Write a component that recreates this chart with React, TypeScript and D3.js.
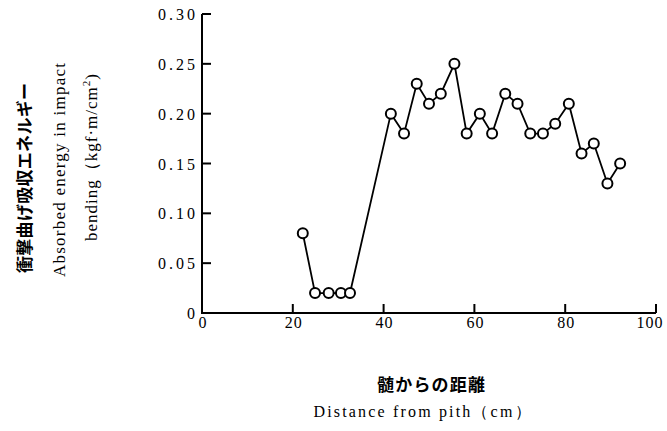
import React, { useEffect, useRef } from 'react';
import * as d3 from 'd3';

// distance from pith (cm) and absorbed energy (kgf·m/cm²)
const distance = [22.2, 24.9, 27.9, 30.6, 32.6, 41.6, 44.5, 47.3, 50.0, 52.6, 55.6, 58.3, 61.2, 63.9, 66.8, 69.5, 72.3, 75.1, 77.8, 80.8, 83.6, 86.3, 89.3, 92.1];
const energy = [0.08, 0.02, 0.02, 0.02, 0.02, 0.20, 0.18, 0.23, 0.21, 0.22, 0.25, 0.18, 0.20, 0.18, 0.22, 0.21, 0.18, 0.18, 0.19, 0.21, 0.16, 0.17, 0.13, 0.15];
const xTicks = [0, 20, 40, 60, 80, 100];
const yTicks = [0, 0.05, 0.1, 0.15, 0.2, 0.25, 0.3];
const yTickLabels = ['0', '0.05', '0.10', '0.15', '0.20', '0.25', '0.30'];

const serif = '"Liberation Serif", "DejaVu Serif", serif';
const cjk = '"Noto Sans CJK JP", sans-serif';

const App = () => {
  const svgRef = useRef<SVGSVGElement>(null);

  useEffect(() => {
    const svg = d3.select(svgRef.current);
    svg.selectAll('*').remove();

    const x = d3.scaleLinear().domain([0, 100]).range([202, 656]);
    const y = d3.scaleLinear().domain([0, 0.3]).range([313, 14]);

    // axes
    svg.append('line')
      .attr('x1', x(0)).attr('x2', x(0)).attr('y1', y(0.3)).attr('y2', y(0) + 1)
      .attr('stroke', '#000').attr('stroke-width', 2);
    svg.append('line')
      .attr('x1', x(0) - 1).attr('x2', x(100)).attr('y1', y(0)).attr('y2', y(0))
      .attr('stroke', '#000').attr('stroke-width', 2);

    // y ticks (pointing inward)
    svg.selectAll('.ytick')
      .data(yTicks)
      .enter()
      .append('line')
      .attr('x1', x(0)).attr('x2', x(0) + 9)
      .attr('y1', d => y(d)).attr('y2', d => y(d))
      .attr('stroke', '#000').attr('stroke-width', 2);
    svg.selectAll('.ylab')
      .data(yTicks)
      .enter()
      .append('text')
      .attr('x', x(0) - 4)
      .attr('y', d => y(d) + 6)
      .attr('text-anchor', 'end')
      .attr('font-family', serif)
      .attr('font-size', 16)
      .attr('letter-spacing', 3)
      .text((d, i) => yTickLabels[i]);

    // x ticks
    svg.selectAll('.xtick')
      .data(xTicks.slice(1))
      .enter()
      .append('line')
      .attr('x1', d => x(d)).attr('x2', d => x(d))
      .attr('y1', y(0)).attr('y2', y(0) - 9)
      .attr('stroke', '#000').attr('stroke-width', 2);
    svg.selectAll('.xlab')
      .data(xTicks)
      .enter()
      .append('text')
      .attr('x', d => Math.min(x(d) + 1, 650))
      .attr('y', y(0) + 15)
      .attr('text-anchor', 'middle')
      .attr('font-family', serif)
      .attr('font-size', 16)
      .attr('letter-spacing', 1)
      .text(d => d);

    // line + markers
    const pts = distance.map((d, i) => [d, energy[i]] as [number, number]);
    svg.append('path')
      .datum(pts)
      .attr('fill', 'none')
      .attr('stroke', '#000')
      .attr('stroke-width', 1.8)
      .attr('d', d3.line<[number, number]>().x(d => x(d[0])).y(d => y(d[1])));
    svg.selectAll('.dot')
      .data(pts)
      .enter()
      .append('circle')
      .attr('cx', d => x(d[0]))
      .attr('cy', d => y(d[1]))
      .attr('r', 5)
      .attr('fill', '#fff')
      .attr('stroke', '#000')
      .attr('stroke-width', 2);

    // y axis titles
    svg.append('text')
      .attr('transform', 'translate(31,178) rotate(-90)')
      .attr('text-anchor', 'middle')
      .attr('font-family', cjk)
      .attr('font-size', 17)
      .attr('font-weight', 'bold')
      .attr('textLength', 190)
      .attr('lengthAdjust', 'spacing')
      .text('衝撃曲げ吸収エネルギー');
    svg.append('text')
      .attr('transform', 'translate(65,170) rotate(-90)')
      .attr('text-anchor', 'middle')
      .attr('font-family', serif)
      .attr('font-size', 17)
      .attr('textLength', 214)
      .attr('lengthAdjust', 'spacing')
      .text('Absorbed energy in impact');
    const t3 = svg.append('text')
      .attr('transform', 'translate(97,157) rotate(-90)')
      .attr('text-anchor', 'middle')
      .attr('font-family', serif)
      .attr('font-size', 17)
      .attr('letter-spacing', 1);
    t3.append('tspan').text('bending（kgf·m/cm');
    t3.append('tspan').attr('font-size', 11).attr('dy', -7).text('2');
    t3.append('tspan').attr('dy', 7).text(')');

    // x axis titles
    svg.append('text')
      .attr('x', 431).attr('y', 391)
      .attr('text-anchor', 'middle')
      .attr('font-family', cjk)
      .attr('font-size', 17)
      .attr('font-weight', 'bold')
      .attr('textLength', 108)
      .attr('lengthAdjust', 'spacing')
      .text('髄からの距離');
    svg.append('text')
      .attr('x', 422).attr('y', 417)
      .attr('text-anchor', 'middle')
      .attr('font-family', serif)
      .attr('font-size', 16)
      .attr('textLength', 217)
      .attr('lengthAdjust', 'spacing')
      .text('Distance from pith（cm）');
  }, []);

  return (
    <svg ref={svgRef} width={667} height={431} style={{ position: 'absolute', left: 0, top: 0, background: '#fff' }}></svg>
  );
};

export default App;
